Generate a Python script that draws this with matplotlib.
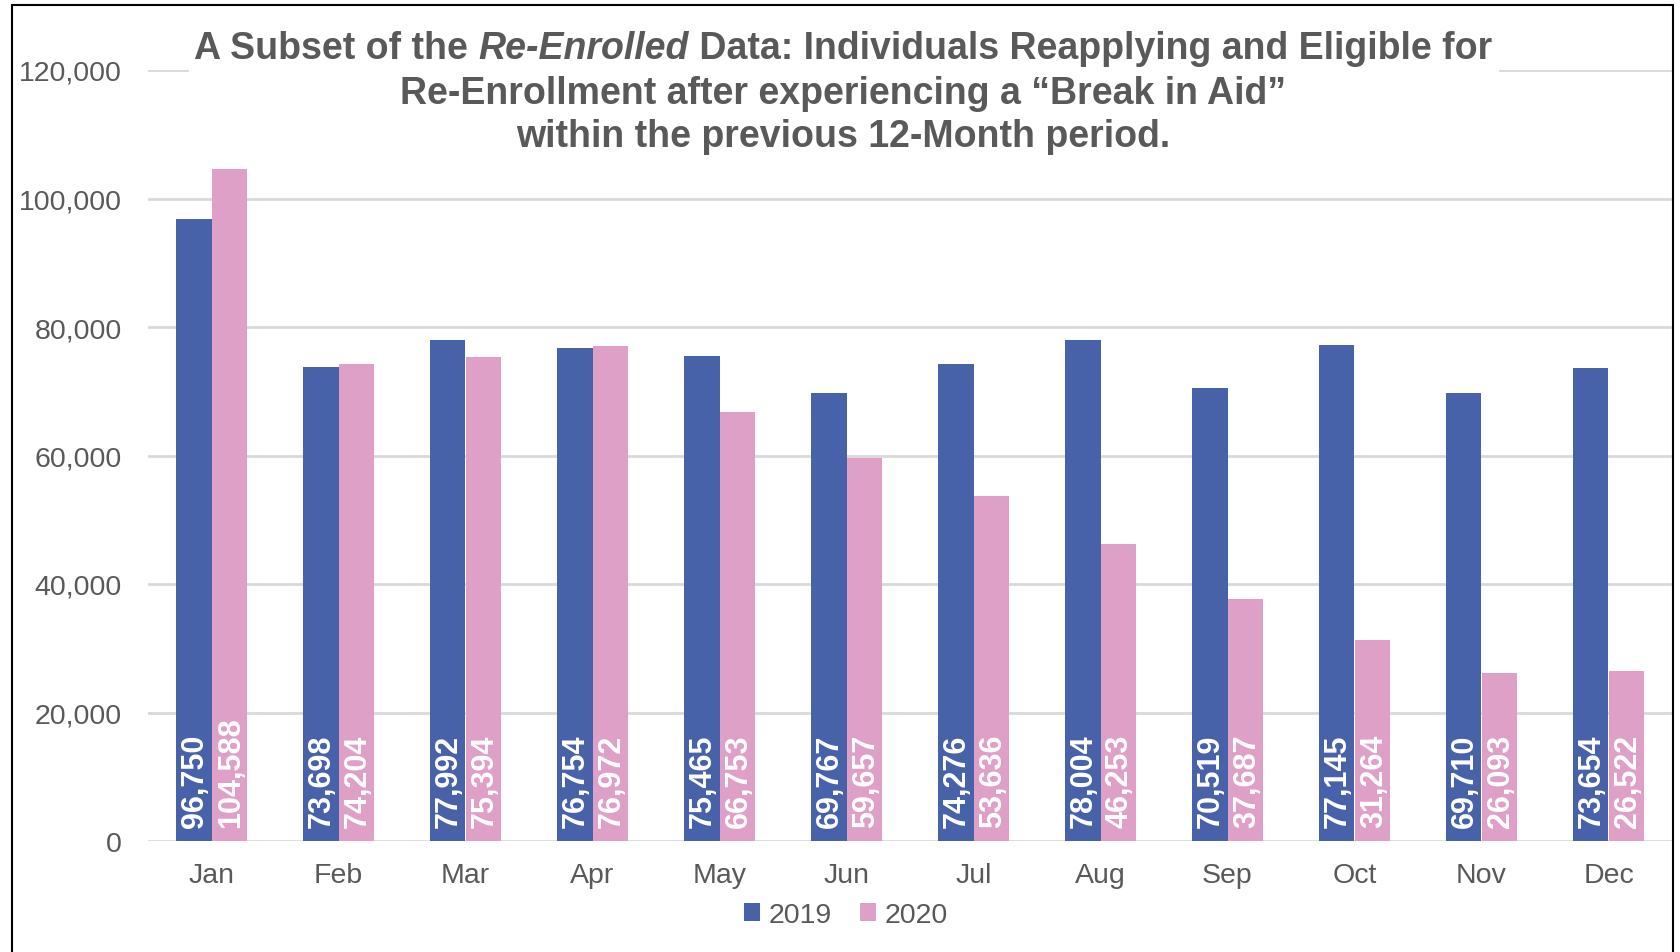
import matplotlib
matplotlib.use("Agg")
import matplotlib.pyplot as plt
from matplotlib.patches import Rectangle
import numpy as np

months = ["Jan", "Feb", "Mar", "Apr", "May", "Jun", "Jul", "Aug", "Sep", "Oct", "Nov", "Dec"]
vals_2019 = [96750, 73698, 77992, 76754, 75465, 69767, 74276, 78004, 70519, 77145, 69710, 73654]
vals_2020 = [104588, 74204, 75394, 76972, 66753, 59657, 53636, 46253, 37687, 31264, 26093, 26522]
series_names = ["2019", "2020"]
yticks = [0, 20000, 40000, 60000, 80000, 100000, 120000]

plt.rcParams["font.family"] = ["Liberation Sans", "DejaVu Sans"]
txt_col = "#595959"
c19 = "#4862AA"
c20 = "#DFA0C8"

W, H = 1680, 953
fig = plt.figure(figsize=(W / 100, H / 100), dpi=100)
ax = fig.add_axes([148 / W, 1 - 842 / H, (1672 - 148) / W, (842 - 71) / H])

x = np.arange(len(months))
bw = 0.283
b1 = ax.bar(x - bw / 2, vals_2019, bw, color=c19, label=series_names[0], zorder=2)
b2 = ax.bar(x + bw / 2, vals_2020, bw, color=c20, label=series_names[1], zorder=2)

for bars, vals in [(b1, vals_2019), (b2, vals_2020)]:
    for rect, v in zip(bars, vals):
        ax.annotate(f"{v:,}", xy=(rect.get_x() + rect.get_width() / 2, 0),
                    xytext=(1, 10), textcoords="offset points",
                    rotation=90, ha="center", va="bottom",
                    color="white", fontsize=22, fontweight="bold", zorder=3)

ax.set_xlim(-0.5, 11.5)
ax.set_ylim(0, 120000)
ax.set_yticks(yticks)
ax.set_yticklabels([f"{t:,}" for t in yticks])
ax.set_xticks(x)
ax.set_xticklabels(months)
ax.tick_params(axis="both", length=0, labelsize=20.5, labelcolor=txt_col)
ax.tick_params(axis="y", pad=19)
ax.tick_params(axis="x", pad=15)
ax.grid(axis="y", color="#D9D9D9", linewidth=2, zorder=0)
ax.set_axisbelow(True)
for s in ax.spines.values():
    s.set_visible(False)

fig.legend(loc="center", bbox_to_anchor=(846 / W, 1 - 916 / H), ncol=2, frameon=False,
           fontsize=20.5, labelcolor=txt_col, handlelength=0.55, handleheight=0.55,
           handletextpad=0.3, columnspacing=1.0)

# title: white box behind, covering the top gridline
fig.add_artist(Rectangle((189 / W, 1 - 165 / H), (1499 - 189) / W, 145 / H,
                         transform=fig.transFigure, facecolor="white", edgecolor="none", zorder=5))
tkw = dict(fontsize=27, fontweight="bold", color=txt_col, zorder=6)
cx = 843 / W
t1 = fig.text(0, 1 - 59 / H, "A Subset of the ", ha="left", va="baseline", **tkw)
t2 = fig.text(0, 1 - 59 / H, "Re-Enrolled", ha="left", va="baseline", style="italic", **tkw)
t3 = fig.text(0, 1 - 59 / H, " Data: Individuals Reapplying and Eligible for", ha="left", va="baseline", **tkw)
fig.canvas.draw()
r = fig.canvas.get_renderer()
w1 = t1.get_window_extent(r).width
w2 = t2.get_window_extent(r).width
w3 = t3.get_window_extent(r).width
start = cx * W - (w1 + w2 + w3) / 2
t1.set_x(start / W)
t2.set_x((start + w1) / W)
t3.set_x((start + w1 + w2) / W)
fig.text(cx, 1 - 104 / H, "Re-Enrollment after experiencing a \u201cBreak in Aid\u201d",
         ha="center", va="baseline", **tkw)
fig.text(cx, 1 - 147 / H, "within the previous 12-Month period.",
         ha="center", va="baseline", **tkw)

# outer border
fig.add_artist(Rectangle((12 / W, -0.01), (1673 - 12) / W, 1 - 6 / H + 0.01,
                         transform=fig.transFigure, facecolor="none", edgecolor="black",
                         linewidth=1.5, zorder=10))

fig.savefig("out.png", dpi=100)
